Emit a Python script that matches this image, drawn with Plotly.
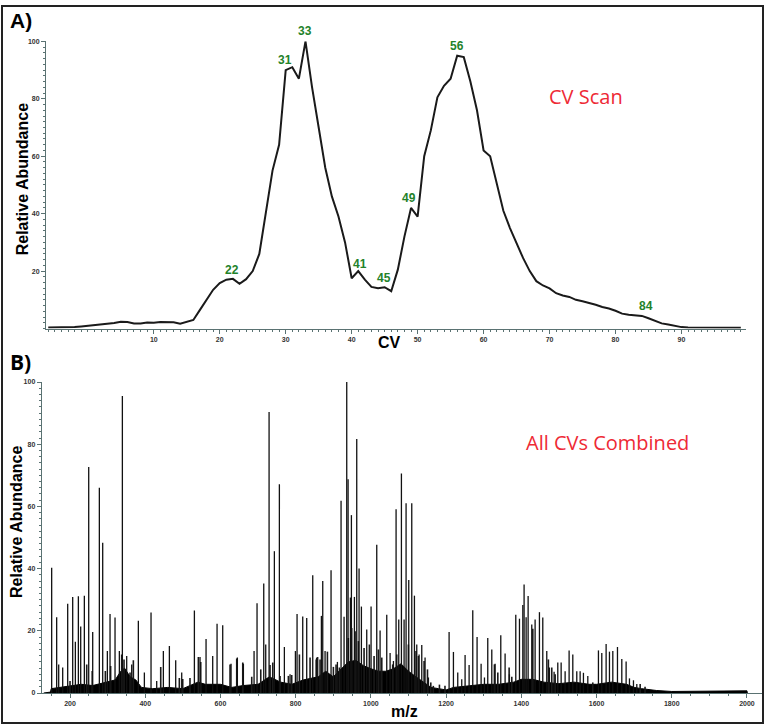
import plotly.graph_objects as go

W, H = 768, 728

# ---------------- Panel A: CV scan ----------------
cv = list(range(-6, 100))
cv_abund = [0.4, 0.4, 0.4, 0.4, 0.5, 0.7, 0.9, 1.2, 1.3, 1.5, 1.9, 2.4, 2.3, 1.8, 1.8, 2.1,
            2.0, 2.3, 2.3, 2.2, 1.7, 2.3, 3.0, 6.5, 10, 13.5, 15.8, 17, 17.3, 15.6, 17.2, 20,
            26, 40, 55, 64, 90, 91, 87, 100, 84, 70, 56, 46, 39, 30, 17.5, 20, 17, 14.5, 14,
            14.4, 13, 20.5, 32, 42, 39, 60, 69, 80.5, 84.5, 87, 95, 94.5, 86, 76, 62, 60, 51,
            41, 35, 29.7, 24.5, 20, 16.5, 15, 14, 12.3, 11.5, 11, 10, 9.5, 9, 8.3, 7.5, 7,
            6.2, 5.2, 4.8, 4.6, 4.4, 3.6, 2.6, 1.8, 1.4, 0.9, 0.5, 0.4, 0.4, 0.3, 0.3, 0.3,
            0.3, 0.3, 0.3, 0.3, 0.3]
peak_labels = ["22", "31", "33", "41", "45", "49", "56", "84"]
peak_label_x = [21.9, 29.9, 33.0, 41.3, 44.9, 48.7, 55.9, 84.6]
peak_label_y = [20.5, 93.4, 103.6, 22.4, 17.7, 45.4, 98.3, 7.8]
cv_ticks = [10, 20, 30, 40, 50, 60, 70, 80, 90]
ab_ticks_a = [20, 40, 60, 80, 100]

# ---------------- Panel B: combined spectrum ----------------
mz_peaks = [151.2, 164.5, 169.9, 180.5, 193.8, 207.1, 214.2, 222.2, 228.4, 238.1, 249.7, 260.3,
            278.0, 286.9, 299.3, 306.4, 319.7, 331.2, 339.2, 350.7, 364.0, 381.7, 397.7, 415.4,
            430.5, 448.2, 464.2, 481.0, 497.0, 530.7, 545.7, 561.7, 579.4, 591.0, 606.0, 628.2,
            645.0, 661.0, 689.4, 697.3, 715.1, 720.4, 729.3, 743.4, 756.7, 770.0, 785.1, 799.3,
            803.7, 818.8, 829.4, 845.4, 854.3, 858.7, 868.4, 872.0, 878.2, 894.1, 911.0, 920.7,
            928.7, 935.8, 939.4, 945.6, 948.2, 956.2, 962.4, 968.6, 974.8, 989.0, 1000.5, 1015.6,
            1024.5, 1042.2, 1051.1, 1060.0, 1067.0, 1074.1, 1081.2, 1088.3, 1093.6, 1100.7,
            1108.7, 1115.8, 1122.0, 1128.2, 1135.3, 1144.1, 1153.0, 1208.0, 1219.5, 1231.0,
            1241.6, 1250.5, 1261.2, 1270.9, 1282.4, 1293.1, 1302.0, 1310.8, 1321.5, 1330.3,
            1345.4, 1356.9, 1368.4, 1385.3, 1395.1, 1404.0, 1407.4, 1412.8, 1418.1, 1427.8,
            1436.7, 1448.2, 1457.1, 1467.7, 1474.8, 1487.2, 1497.0, 1505.9, 1516.5, 1527.1,
            1536.9, 1547.5, 1556.4, 1565.2, 1576.8, 1605.1, 1614.0, 1625.5, 1634.4, 1643.3,
            1655.7, 1667.2, 1678.7, 1687.6, 1698.2, 1707.1]
int_peaks = [40.3, 24.4, 9.2, 8.2, 28.7, 30.9, 16.5, 31.1, 21.4, 31.3, 72.7, 19.6,
             66.0, 48.3, 13.5, 25.4, 24.3, 13.5, 95.5, 11.9, 9.2, 23.2, 6.6, 25.9,
             3.9, 13.5, 15.1, 10.5, 6.6, 26.5, 11.6, 17.4, 11.9, 22.3, 21.8, 9.4,
             11.4, 9.4, 13.5, 28.9, 35.2, 15.6, 90.4, 45.6, 67.1, 14.8, 6.0, 13.5,
             25.4, 24.6, 24.1, 37.9, 10.8, 11.6, 24.8, 36.0, 13.5, 39.5, 10.0, 61.8,
             24.5, 100.0, 68.7, 30.7, 57.2, 30.9, 81.7, 40.0, 27.8, 20.4, 27.8, 47.7,
             20.1, 25.2, 12.9, 10.3, 59.1, 23.6, 70.6, 23.6, 61.0, 36.3,
             61.0, 31.3, 15.6, 12.4, 15.4, 11.4, 5.0, 19.6, 13.2, 6.6,
             4.4, 12.2, 9.0, 26.6, 18.0, 9.4, 5.0, 17.7, 14.0, 9.4,
             18.6, 12.7, 6.0, 25.2, 23.9, 28.3, 34.9, 24.4, 31.2, 22.0,
             23.6, 26.0, 24.3, 13.5, 8.2, 6.8, 9.8, 9.8, 7.0, 13.7,
             12.4, 7.0, 7.0, 6.5, 5.5, 13.7, 12.9, 15.8, 13.3, 13.5,
             14.8, 10.9, 10.1, 4.7, 4.1, 2.9]
# smaller peaks read from the dense lower part of the spectrum
mz_minor = [200, 244.4, 259, 294, 308, 337.4, 343.6, 359.6, 368.4, 441.2, 490.7, 499.7, 519,
            541.3, 547.6, 625.5, 643.3, 659.3, 683.2, 707.2, 731.9, 739.1, 758.5, 780.6, 789.5,
            809.9, 838.3, 856, 864.9, 884.4, 900.3, 907.4, 916.3, 940, 949, 958, 966.8, 981.9,
            996, 1008.5, 1020, 1029, 1058, 1068.8, 1099.7, 1120, 1126.4, 1141.5, 1150.5, 1159.3,
            1166, 1182.3, 1197, 1328.5, 1337.5, 1367.6, 1374.7, 1430.6, 1472, 1481, 1490, 1590,
            1716, 1729]
int_minor = [3.9, 9.2, 7.1, 7.1, 8.7, 12.4, 10.8, 6.6, 10.5, 8.4, 4.8, 4.5, 4.8,
             11.6, 10.0, 9.2, 11.1, 9.8, 5.2, 7.6, 9.0, 9.8, 5.5, 5.5, 5.8,
             12.4, 11.4, 11.4, 10.8, 13.3, 8.4, 9.2, 8.2, 17.7, 20.9, 19.9, 16.7, 14.5,
             15.6, 11.9, 14.0, 11.4, 9.2, 12.4, 15.6, 13.5, 11.9, 10.3, 7.6, 3.4,
             2.3, 2.7, 2.3, 9.2, 6.6, 8.2, 5.2, 20.7, 10.8, 8.2, 6.0, 3.4,
             2.9, 2.0]
mz_grass = [130, 148, 150, 170, 200, 230, 260, 290, 320, 335, 345, 360, 375, 390, 420, 460, 500,
            540, 560, 600, 630, 660, 700, 730, 760, 790, 820, 860, 880, 900, 920, 940, 960, 980,
            1000, 1020, 1040, 1060, 1080, 1100, 1120, 1140, 1160, 1180, 1200, 1220, 1260, 1300,
            1340, 1380, 1400, 1430, 1460, 1500, 1540, 1580, 1600, 1640, 1680, 1700, 1720, 1760,
            1800, 1900, 1950, 2000, 2001]
int_grass = [0, 0.3, 1.4, 1.8, 2.4, 2.8, 2.4, 3.4, 4.2, 7, 8, 5.2, 4.2, 1.8, 1.4, 1.8, 1.4,
             3.5, 2.8, 2.8, 1.8, 2.4, 2.8, 5.2, 3.5, 2.8, 4.2, 5.2, 7, 5.2, 7.5, 10, 10.5, 8.8,
             7.8, 7, 7, 7.8, 9.4, 7, 5.2, 3.5, 1.8, 1.4, 1.0, 1.8, 2.4, 2.8,
             2.8, 3.5, 4.4, 4.4, 3.5, 3.0, 3.5, 2.8, 2.8, 3.5, 2.8, 1.8, 1.4, 0.8,
             0.5, 0.5, 0.6, 0.7, 0]
mz_ticks = [200, 400, 600, 800, 1000, 1200, 1400, 1600, 1800, 2000]
ab_ticks_b = [0, 20, 40, 60, 80, 100]


def px(x):
    return x / W


def py(y):
    return 1 - y / H


# top panel placement (pixels)
A_X0, A_X1, A_Y0, A_Y1 = 46, 745.7, 327.7, 37.7
A_XR = [-6.34, 99.74]
A_YR = [0, 100]

fig = go.Figure()

fig.add_trace(go.Scatter(x=cv, y=cv_abund, mode="lines",
                         line=dict(color="#1a1a1a", width=2), xaxis="x", yaxis="y",
                         showlegend=False, hoverinfo="skip"))

fig.add_trace(go.Scatter(x=mz_grass, y=int_grass, mode="lines", fill="tozeroy",
                         fillcolor="#000000", line=dict(color="#000000", width=1),
                         xaxis="x2", yaxis="y2", showlegend=False, hoverinfo="skip"))

sx, sy = [], []
for m, v in zip(mz_minor, int_minor):
    sx += [m, m, None]
    sy += [0, v, None]
fig.add_trace(go.Scatter(x=sx, y=sy, mode="lines", line=dict(color="#1a1a1a", width=1.6),
                         xaxis="x2", yaxis="y2", showlegend=False, hoverinfo="skip"))

sx, sy = [], []
for m, v in zip(mz_peaks, int_peaks):
    sx += [m, m, None]
    sy += [0, v, None]
fig.add_trace(go.Scatter(x=sx, y=sy, mode="lines", line=dict(color="#111111", width=1.3),
                         xaxis="x2", yaxis="y2", showlegend=False, hoverinfo="skip"))

axcol = "#5a7272"
tickfont = dict(family="Liberation Sans, Arial", size=7, color="#333333", weight="bold")

fig.update_layout(
    width=W, height=H, margin=dict(l=0, r=0, t=0, b=0),
    paper_bgcolor="white", plot_bgcolor="white",
    xaxis=dict(domain=[px(A_X0), px(A_X1)], range=A_XR, anchor="y",
               tickvals=cv_ticks, ticks="outside", ticklen=4, tickcolor=axcol,
               showline=True, linecolor=axcol, linewidth=1, showgrid=False, zeroline=False,
               tickfont=tickfont,
               minor=dict(dtick=1, tick0=0, ticks="outside", ticklen=2, tickcolor=axcol,
                          showgrid=False)),
    yaxis=dict(domain=[py(A_Y0), py(A_Y1)], range=A_YR, anchor="x",
               tickvals=ab_ticks_a, ticks="outside", ticklen=4, tickcolor=axcol,
               showline=True, linecolor=axcol, linewidth=1, showgrid=False, zeroline=False,
               tickfont=tickfont,
               minor=dict(dtick=2, tick0=0, ticks="outside", ticklen=2, tickcolor=axcol,
                          showgrid=False)),
    xaxis2=dict(domain=[px(41.7), px(762)], range=[124.7, 2040], anchor="y2",
                tickvals=mz_ticks, ticks="outside", ticklen=4, tickcolor=axcol,
                showline=True, linecolor=axcol, linewidth=1, showgrid=False, zeroline=False,
                tickfont=tickfont,
                minor=dict(dtick=50, tick0=0, ticks="outside", ticklen=2, tickcolor=axcol,
                           showgrid=False)),
    yaxis2=dict(domain=[py(695.7), py(381.7)], range=[0, 100], anchor="x2",
                tickvals=ab_ticks_b, ticks="outside", ticklen=4, tickcolor=axcol,
                showline=True, linecolor=axcol, linewidth=1, showgrid=False, zeroline=False,
                tickfont=tickfont,
                minor=dict(dtick=2, tick0=0, ticks="outside", ticklen=2, tickcolor=axcol,
                           showgrid=False)),
)

ann = []
for t, x, y in zip(peak_labels, peak_label_x, peak_label_y):
    # place in paper coordinates so labels above the axis range stay visible
    fx = px(A_X0) + (x - A_XR[0]) / (A_XR[1] - A_XR[0]) * (px(A_X1) - px(A_X0))
    fy = py(A_Y0) + (y - A_YR[0]) / (A_YR[1] - A_YR[0]) * (py(A_Y1) - py(A_Y0))
    ann.append(dict(x=fx, y=fy, xref="paper", yref="paper", text=t, showarrow=False,
                    xanchor="center", yanchor="middle",
                    font=dict(family="Liberation Sans, Arial", size=12, color="#23822a",
                              weight="bold")))


def txt(text, x, y, size, color="black", bold=True, family="Liberation Sans, Arial", angle=0):
    ann.append(dict(x=px(x), y=py(y), xref="paper", yref="paper", text=text,
                    showarrow=False, textangle=angle, xanchor="center", yanchor="middle",
                    font=dict(family=family, size=size, color=color,
                              weight="bold" if bold else "normal")))


txt("A)", 21, 17, 21)
txt("B)", 20, 361, 21, family="Open Sans")
txt("Relative Abundance", 22, 177, 16, angle=-90)
txt("Relative Abundance", 17, 523, 16, angle=-90)
txt("CV", 389, 342, 16)
txt("m/z", 404, 714, 16)
txt("CV Scan", 586, 93, 20, color="#ee2a35", bold=False, family="Open Sans")
txt("All CVs Combined", 607, 443, 20, color="#ee2a35", bold=False, family="Open Sans")

fig.update_layout(annotations=ann)
fig.add_shape(type="rect", xref="paper", yref="paper", x0=px(2), x1=px(763),
              y0=py(726), y1=py(2), line=dict(color="#222222", width=2))

fig.write_html("out.html", config={"displayModeBar": False},
               post_script="document.body.style.margin='0px';")
